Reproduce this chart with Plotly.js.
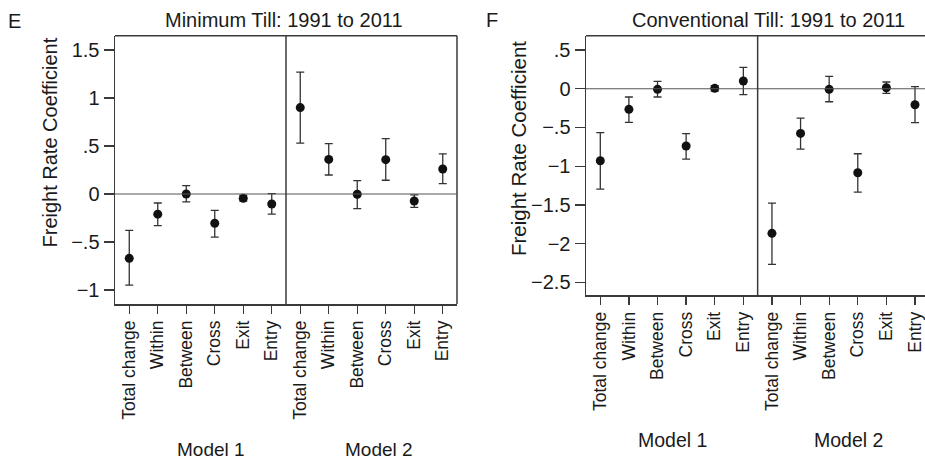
<!DOCTYPE html>
<html><head><meta charset="utf-8">
<script src="https://cdn.plot.ly/plotly-3.0.1.min.js"></script>
<style>html,body{margin:0;padding:0;background:#fff;overflow:hidden}</style>
</head><body><div id="chart" style="width:925px;height:462px"></div>
<script>
const categories = ["Total change","Within","Between","Cross","Exit","Entry"];
const models = ["Model 1","Model 2"];
const panelTitles = ["Minimum Till: 1991 to 2011","Conventional Till: 1991 to 2011"];
const panelLetters = ["E","F"];
const yTitle = "Freight Rate Coefficient";

// Minimum till
const minCoef1 = [-0.67,-0.21,0.00,-0.305,-0.045,-0.104];
const minLo1   = [-0.95,-0.33,-0.083,-0.45,-0.075,-0.21];
const minHi1   = [-0.38,-0.094,0.087,-0.17,-0.015,0.004];
const minCoef2 = [0.90,0.36,-0.003,0.358,-0.073,0.26];
const minLo2   = [0.53,0.198,-0.152,0.143,-0.139,0.108];
const minHi2   = [1.27,0.525,0.14,0.577,-0.01,0.417];
// Conventional till
const convCoef1 = [-0.93,-0.266,-0.008,-0.74,0.005,0.10];
const convLo1   = [-1.296,-0.434,-0.107,-0.908,-0.03,-0.077];
const convHi1   = [-0.568,-0.107,0.095,-0.581,0.04,0.276];
const convCoef2 = [-1.868,-0.577,-0.008,-1.085,0.013,-0.207];
const convLo2   = [-2.269,-0.779,-0.168,-1.335,-0.06,-0.439];
const convHi2   = [-1.477,-0.379,0.16,-0.84,0.087,0.026];

const leftTickVals = [-1,-0.5,0,0.5,1,1.5];
const leftTickText = ["\u22121","\u2212.5","0",".5","1","1.5"];
const rightTickVals = [-2.5,-2,-1.5,-1,-0.5,0,0.5];
const rightTickText = ["\u22122.5","\u22122","\u22121.5","\u22121","\u2212.5","0",".5"];

const FONT = "Liberation Sans, Arial, Helvetica, sans-serif";
const INK = "#1a1a1a";
const LINE = "#3a3a3a";

const allCats = categories.concat(categories);
const xIdx = allCats.map((c,i)=>i);

function mkTrace(c1,l1,h1,c2,l2,h2,xa,ya){
  const y = c1.concat(c2), lo = l1.concat(l2), hi = h1.concat(h2);
  return {
    type:"scatter", mode:"markers", x:xIdx, y:y, xaxis:xa, yaxis:ya,
    marker:{color:"#111", size:9},
    error_y:{type:"data", symmetric:false,
      array:hi.map((h,i)=>h-y[i]), arrayminus:lo.map((l,i)=>y[i]-l),
      color:"#333", thickness:1.3, width:4},
    showlegend:false, hoverinfo:"skip"
  };
}

const data = [
  mkTrace(minCoef1,minLo1,minHi1,minCoef2,minLo2,minHi2,"x","y"),
  mkTrace(convCoef1,convLo1,convHi1,convCoef2,convLo2,convHi2,"x2","y2")
];

const W = 925, H = 462;
const xcommon = {
  tickmode:"array", tickvals:xIdx, ticktext:allCats, tickangle:-90,
  ticks:"outside", ticklen:8, tickwidth:1.3, tickcolor:LINE,
  showgrid:false, zeroline:false, showline:true, linecolor:LINE, linewidth:1.5,
  tickfont:{family:FONT, size:17.5, color:INK}, fixedrange:true
};
const ycommon = {
  tickmode:"array", ticks:"outside", ticklen:10, tickwidth:1.3, tickcolor:LINE,
  showgrid:false, zeroline:false, showline:true, linecolor:LINE, linewidth:1.5,
  tickfont:{family:FONT, size:20, color:INK}, fixedrange:true
};

const layout = {
  width:W, height:H, margin:{l:0,r:0,t:0,b:0},
  paper_bgcolor:"#fff", plot_bgcolor:"#fff",
  font:{family:FONT, color:INK},
  xaxis:Object.assign({}, xcommon, {domain:[115/W, 457/W], range:[-0.5,11.5], anchor:"y"}),
  yaxis:Object.assign({}, ycommon, {domain:[(H-304)/H,(H-35.7)/H], range:[-1.146,1.649],
        tickvals:leftTickVals, ticktext:leftTickText, anchor:"x"}),
  xaxis2:Object.assign({}, xcommon, {domain:[586/W, 1], range:[-0.5,11.35], anchor:"y2"}),
  yaxis2:Object.assign({}, ycommon, {domain:[(H-295.3)/H,(H-35.7)/H], range:[-2.668,0.685],
        tickvals:rightTickVals, ticktext:rightTickText, anchor:"x2"}),
  shapes:[
    {type:"line", xref:"x domain", yref:"y domain", x0:0,x1:1,y0:1,y1:1, line:{color:LINE,width:1.5}},
    {type:"line", xref:"x domain", yref:"y domain", x0:1,x1:1,y0:0,y1:1, line:{color:LINE,width:1.5}},
    {type:"line", xref:"x2 domain", yref:"y2 domain", x0:0,x1:1,y0:1,y1:1, line:{color:LINE,width:1.5}},
    {type:"line", xref:"x domain", yref:"y", x0:0,x1:1,y0:0,y1:0, line:{color:"#555",width:1.2}},
    {type:"line", xref:"x2 domain", yref:"y2", x0:0,x1:1,y0:0,y1:0, line:{color:"#555",width:1.2}},
    {type:"line", xref:"x", yref:"y domain", x0:5.5,x1:5.5,y0:0,y1:1, line:{color:LINE,width:1.5}},
    {type:"line", xref:"x2", yref:"y2 domain", x0:5.5,x1:5.5,y0:0,y1:1, line:{color:LINE,width:1.5}}
  ],
  annotations:[
    {text:panelLetters[0], xref:"paper", yref:"paper", x:14/W, y:(H-21)/H, showarrow:false, font:{size:20,color:INK}, xanchor:"center", yanchor:"middle"},
    {text:panelLetters[1], xref:"paper", yref:"paper", x:492/W, y:(H-20)/H, showarrow:false, font:{size:20,color:INK}, xanchor:"center", yanchor:"middle"},
    {text:panelTitles[0], xref:"paper", yref:"paper", x:284/W, y:(H-20)/H, showarrow:false, font:{size:20,color:INK}, xanchor:"center", yanchor:"middle"},
    {text:panelTitles[1], xref:"paper", yref:"paper", x:768/W, y:(H-20)/H, showarrow:false, font:{size:20,color:INK}, xanchor:"center", yanchor:"middle"},
    {text:yTitle, xref:"paper", yref:"paper", x:50/W, y:(H-142.5)/H, textangle:-90, showarrow:false, font:{size:20,color:INK}, xanchor:"center", yanchor:"middle"},
    {text:yTitle, xref:"paper", yref:"paper", x:518/W, y:(H-149)/H, textangle:-90, showarrow:false, font:{size:20.5,color:INK}, xanchor:"center", yanchor:"middle"},
    {text:models[0], xref:"paper", yref:"paper", x:211/W, y:1/H, showarrow:false, font:{size:19,color:INK}, xanchor:"center", yanchor:"bottom", borderpad:0},
    {text:models[1], xref:"paper", yref:"paper", x:379/W, y:1/H, showarrow:false, font:{size:19,color:INK}, xanchor:"center", yanchor:"bottom", borderpad:0},
    {text:models[0], xref:"paper", yref:"paper", x:672/W, y:(H-440)/H, showarrow:false, font:{size:19.5,color:INK}, xanchor:"center", yanchor:"middle"},
    {text:models[1], xref:"paper", yref:"paper", x:848/W, y:(H-440)/H, showarrow:false, font:{size:19.5,color:INK}, xanchor:"center", yanchor:"middle"}
  ]
};

Plotly.newPlot("chart", data, layout, {displayModeBar:false, staticPlot:true});
</script></body></html>
